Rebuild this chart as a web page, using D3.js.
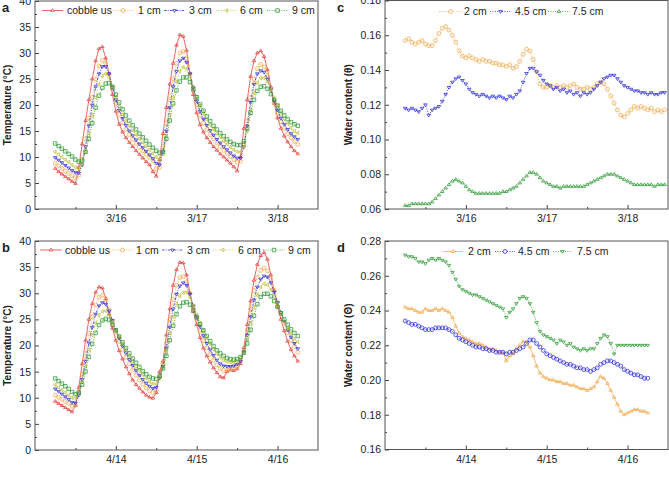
<!DOCTYPE html>
<html><head><meta charset="utf-8">
<script src="https://cdn.jsdelivr.net/npm/d3@7/dist/d3.min.js"></script>
<style>body{margin:0;background:#fff}svg{display:block}text{font-family:"Liberation Sans",Arial,sans-serif;fill:#222}</style>
</head><body><svg id="chart" width="669" height="489"></svg>
<script>
// ---------- DATA ----------
// hourly readings, hour index from the first day 00:00
const hoursT = d3.range(6, 79);   // panels a, b, d: hour 6 .. 78
const hoursC = d3.range(6, 84);   // panel c: hour 6 .. 83
const dateLabelsMar = ["3/16", "3/17", "3/18"];
const dateLabelsApr = ["4/14", "4/15", "4/16"];
const dayTickHours = [24, 48, 72];
const halfDayHours = [12, 36, 60];
const tempSeriesNames = ["cobble us", "1 cm", "3 cm", "6 cm", "9 cm"];
const waterSeriesNames = ["2 cm", "4.5 cm", "7.5 cm"];

// panel a – temperature (°C), March
const aCobble = [7.8,7.2,6.7,6.2,5.8,5.3,4.9,8.0,12.5,17.0,21.0,25.0,
 28.5,30.8,31.2,29.0,26.0,22.0,18.8,16.3,14.8,13.7,12.8,12.0,
 11.2,10.5,9.8,9.1,8.5,7.2,6.3,9.5,14.5,19.5,24.0,28.0,
 31.5,33.5,33.2,30.5,26.0,22.0,18.5,16.2,14.8,13.7,12.8,12.0,
 11.3,10.6,10.0,9.4,8.8,8.1,7.3,10.0,15.5,21.0,25.5,28.5,
 30.0,30.4,29.3,26.8,23.5,20.3,17.5,15.5,14.0,12.9,12.0,11.2,10.6];
const a1cm = [8.8,8.3,7.8,7.3,6.8,6.4,6.0,6.5,9.5,13.5,17.5,21.5,
 25.0,27.5,28.6,28.0,26.0,23.0,20.3,18.2,16.6,15.3,14.3,13.4,
 12.6,11.9,11.2,10.5,9.9,9.3,7.7,8.0,12.0,16.5,21.0,25.0,
 28.0,30.0,30.3,29.0,26.0,22.8,20.0,18.0,16.5,15.3,14.3,13.5,
 12.7,12.0,11.3,10.7,10.1,9.5,9.0,9.2,12.5,17.0,21.5,25.0,
 27.0,27.8,27.3,25.5,23.0,20.5,18.4,16.8,15.5,14.5,13.7,13.0,12.4];
const a3cm = [9.9,9.4,8.9,8.4,7.9,7.4,7.0,6.9,8.5,12.0,16.0,20.0,
 23.5,26.0,27.4,27.4,26.0,23.5,21.0,19.0,17.4,16.1,15.0,14.1,
 13.3,12.5,11.8,11.1,10.4,9.7,8.8,8.5,11.0,15.0,19.5,23.5,
 26.5,28.5,29.0,28.2,26.0,23.3,20.8,18.8,17.3,16.1,15.1,14.2,
 13.4,12.7,12.0,11.4,10.8,10.2,9.8,9.8,12.0,16.0,20.5,24.0,
 26.0,26.6,26.3,25.0,23.0,20.8,19.0,17.5,16.3,15.3,14.5,13.9,13.4];
const a6cm = [11.0,10.5,10.0,9.5,9.0,8.5,8.0,7.8,8.5,11.0,14.5,18.0,
 21.5,24.0,25.6,26.0,25.3,23.5,21.5,19.7,18.2,17.0,16.0,15.1,
 14.3,13.5,12.8,12.1,11.4,10.7,10.0,9.6,10.5,14.0,18.0,21.5,
 24.5,26.5,27.3,27.0,25.5,23.5,21.5,19.8,18.4,17.2,16.2,15.3,
 14.5,13.8,13.1,12.5,11.9,11.4,11.0,11.0,12.0,15.0,19.0,22.3,
 24.3,25.2,25.2,24.4,23.0,21.3,19.8,18.5,17.3,16.4,15.6,15.0,14.6];
const a9cm = [12.6,12.1,11.6,11.1,10.6,10.1,9.5,9.1,9.3,11.0,13.5,16.5,
 19.5,21.8,23.3,24.1,24.2,23.4,22.0,20.5,19.2,18.0,17.0,16.1,
 15.3,14.5,13.8,13.1,12.4,11.8,11.2,10.8,11.0,13.5,17.0,20.3,
 22.8,24.5,25.3,25.3,24.4,23.0,21.5,20.1,18.9,17.8,16.9,16.0,
 15.3,14.6,14.0,13.4,12.9,12.5,12.3,12.3,13.0,15.5,18.5,21.0,
 22.7,23.5,23.6,23.1,22.1,21.0,19.9,18.9,18.0,17.3,16.7,16.3,16.0];

// panel b – temperature (°C), April
const bCobble = [9.3,8.9,8.5,8.1,7.7,7.3,8.5,12.0,16.5,21.0,25.0,28.0,
 30.2,31.2,31.0,29.0,26.0,23.3,21.0,19.0,17.4,15.9,14.6,13.4,
 12.5,11.8,11.1,10.5,10.1,9.9,11.0,15.0,17.0,22.0,27.0,31.5,
 34.5,35.9,35.8,33.5,30.0,26.5,24.0,21.5,19.5,18.0,16.8,15.7,
 14.8,14.0,13.8,15.0,15.3,15.2,15.5,16.5,19.5,24.0,28.5,32.5,
 35.5,37.2,37.8,36.5,33.5,30.5,27.5,25.0,22.8,20.8,19.2,18.0,17.0];
const b1cm = [10.5,10.1,9.7,9.3,8.9,8.4,8.6,11.0,14.5,18.5,22.3,25.5,
 27.8,29.2,29.6,28.7,26.8,24.6,22.6,20.8,19.2,17.8,16.5,15.3,
 14.3,13.4,12.6,11.9,11.3,11.0,11.5,14.0,16.5,20.5,25.0,28.8,
 31.5,33.0,33.2,32.2,30.0,27.3,25.0,22.8,21.0,19.5,18.3,17.2,
 16.3,15.6,15.2,15.3,15.5,15.6,16.0,17.0,19.5,23.0,27.0,30.5,
 33.0,34.4,34.8,34.3,32.8,30.6,28.3,26.1,24.2,22.5,21.0,19.8,18.7];
const b3cm = [11.7,11.2,10.7,10.2,9.7,9.1,9.0,10.5,13.5,17.0,20.5,23.5,
 26.0,27.6,28.2,27.9,26.6,24.8,23.0,21.4,19.9,18.6,17.3,16.2,
 15.2,14.3,13.5,12.8,12.2,11.8,12.0,13.8,16.0,19.5,23.5,27.0,
 29.8,31.4,32.0,31.5,29.8,27.6,25.5,23.6,21.9,20.4,19.2,18.1,
 17.2,16.5,16.1,16.0,16.0,16.1,16.4,17.0,18.8,22.0,25.5,28.7,
 31.2,32.7,33.3,33.1,32.0,30.2,28.2,26.3,24.6,23.0,21.6,20.4,19.4];
const b6cm = [12.5,12.0,11.5,11.0,10.5,10.0,9.9,10.8,13.0,16.0,19.2,22.0,
 24.3,25.8,26.5,26.6,25.8,24.4,23.0,21.6,20.3,19.1,18.0,17.0,
 16.0,15.2,14.4,13.7,13.1,12.7,12.7,13.8,15.8,18.8,22.3,25.5,
 28.0,29.5,30.1,30.2,29.2,27.6,25.9,24.3,22.8,21.4,20.3,19.3,
 18.4,17.7,17.2,16.9,16.8,16.8,17.0,17.6,18.7,21.2,24.3,27.3,
 29.7,31.2,31.8,31.6,30.7,29.3,27.7,26.1,24.6,23.3,22.2,21.3,20.7];
const b9cm = [13.7,13.2,12.7,12.2,11.7,11.1,10.7,11.0,12.5,15.0,17.8,20.3,
 22.4,23.9,24.8,25.1,24.9,24.0,22.9,21.7,20.6,19.5,18.5,17.5,
 16.7,15.9,15.1,14.5,14.0,13.7,13.6,14.2,15.6,18.0,21.0,23.8,
 26.0,27.5,28.2,28.3,27.8,26.7,25.4,24.1,22.9,21.8,20.8,19.9,
 19.1,18.5,18.0,17.6,17.4,17.3,17.4,17.8,18.6,20.4,23.0,25.7,
 27.9,29.3,29.9,29.9,29.4,28.5,27.4,26.2,25.0,24.0,23.1,22.4,21.8];

// panel c – water content, March
const c2cm = [.157,.158,.156,.155,.156,.157,.155,.154,.154,.157,.161,.164,
 .165,.163,.160,.156,.151,.148,.147,.148,.147,.146,.145,.146,
 .145,.145,.144,.144,.143,.143,.142,.143,.141,.142,.145,.149,
 .152,.151,.146,.139,.132,.130,.130,.131,.130,.131,.130,.131,
 .130,.131,.132,.130,.129,.129,.130,.129,.130,.132,.133,.132,
 .129,.125,.121,.117,.114,.113,.115,.117,.119,.118,.119,.118,
 .117,.118,.116,.117,.116,.117];
const c45cm = [.118,.117,.118,.117,.116,.118,.120,.114,.117,.118,.119,.122,
 .126,.130,.133,.135,.136,.134,.132,.129,.127,.126,.125,.126,
 .125,.124,.125,.124,.125,.124,.123,.125,.124,.126,.128,.133,
 .138,.141,.141,.139,.137,.134,.132,.131,.129,.130,.128,.129,
 .127,.128,.126,.127,.125,.127,.126,.127,.129,.131,.133,.135,
 .136,.137,.137,.135,.133,.131,.130,.129,.128,.128,.127,.127,
 .126,.127,.126,.126,.127,.127];
const c75cm = [.062,.062,.063,.063,.063,.063,.063,.063,.064,.066,.068,.070,
 .072,.074,.076,.077,.076,.075,.073,.071,.070,.069,.069,.069,
 .069,.069,.069,.069,.069,.070,.070,.071,.072,.073,.075,.077,
 .079,.081,.081,.080,.078,.076,.075,.074,.073,.073,.072,.073,
 .073,.073,.073,.073,.073,.073,.074,.075,.076,.077,.078,.079,
 .080,.080,.080,.079,.078,.077,.076,.075,.074,.074,.074,.074,
 .074,.074,.073,.074,.074,.074];

// panel d – water content, April
const d2cm = [.242,.241,.241,.240,.239,.239,.241,.240,.240,.241,.240,.241,
 .240,.239,.236,.231,.227,.225,.224,.223,.222,.221,.221,.220,
 .219,.218,.218,.217,.216,.216,.211,.214,.215,.218,.220,.222,
 .222,.219,.214,.208,.204,.202,.201,.200,.200,.199,.199,.198,
 .198,.197,.197,.196,.195,.195,.194,.195,.196,.199,.202,.201,
 .198,.194,.190,.186,.182,.180,.181,.182,.183,.183,.182,.182,.181];
const d45cm = [.234,.233,.232,.232,.231,.230,.229,.229,.229,.230,.230,.230,
 .230,.229,.228,.226,.224,.223,.222,.221,.220,.219,.219,.218,
 .218,.217,.217,.216,.216,.216,.215,.216,.216,.217,.218,.219,
 .221,.223,.223,.221,.219,.217,.215,.214,.213,.212,.211,.210,
 .209,.209,.208,.207,.207,.206,.206,.205,.206,.207,.209,.210,
 .211,.211,.210,.209,.208,.206,.205,.204,.203,.203,.202,.201,.201];
const d75cm = [.272,.271,.271,.270,.268,.268,.267,.269,.270,.269,.270,.269,
 .268,.266,.262,.258,.254,.252,.251,.250,.249,.249,.248,.247,
 .246,.245,.244,.243,.242,.241,.236,.239,.241,.244,.247,.248,
 .247,.244,.239,.233,.228,.226,.225,.224,.223,.221,.223,.222,
 .220,.221,.219,.218,.217,.218,.217,.218,.218,.221,.224,.226,
 .225,.221,.215,.220,.220,.220,.220,.220,.220,.220,.220,.220,.220];

// ---------- STYLES ----------
const RED="#e3403d", ORANGE="#f2a94e", BLUE="#2b2bd8", OLIVE="#bcbf33", GREEN="#2f9a35";
const triDown = {draw(ctx,size){const r=Math.sqrt(size/(3*Math.sqrt(3)/4))/Math.sqrt(3); const h=r; ctx.moveTo(0,h*1.0); ctx.lineTo(-r*0.866*1.15,-h*0.5); ctx.lineTo(r*0.866*1.15,-h*0.5); ctx.closePath();}};
const triUp = {draw(ctx,size){const r=Math.sqrt(size/(3*Math.sqrt(3)/4))/Math.sqrt(3); const h=r; ctx.moveTo(0,-h); ctx.lineTo(-r*0.866*1.15,h*0.5); ctx.lineTo(r*0.866*1.15,h*0.5); ctx.closePath();}};
const triLeft = {draw(ctx,size){const r=Math.sqrt(size/(3*Math.sqrt(3)/4))/Math.sqrt(3); ctx.moveTo(-r,0); ctx.lineTo(r*0.5,-r*1.0); ctx.lineTo(r*0.5,r*1.0); ctx.closePath();}};

const svg = d3.select("#chart");

function panel(cfg){
  const g = svg.append("g");
  const x = d3.scaleLinear().domain([0,84]).range([cfg.left, cfg.right]);
  const y = d3.scaleLinear().domain(cfg.yDomain).range([cfg.bottom, cfg.top]);

  // series
  cfg.series.forEach(s=>{
    const pts = s.values.map((v,i)=>[cfg.hours[i], v]);
    g.append("path").datum(pts)
      .attr("d", d3.line().x(d=>x(d[0])).y(d=>y(d[1])))
      .attr("fill","none").attr("stroke",s.color).attr("stroke-width",0.8)
      .attr("stroke-dasharray", s.dash || null);
    g.append("g").selectAll("path").data(pts).join("path")
      .attr("transform", d=>`translate(${x(d[0])},${y(d[1])})`)
      .attr("d", d3.symbol().type(s.symbol).size(s.size||13))
      .attr("fill","none").attr("stroke",s.color).attr("stroke-width",0.75);
  });

  // axes (ticks inward)
  const yAxis = d3.axisLeft(y).tickValues(cfg.yTicks).tickFormat(cfg.yFormat)
    .tickSizeInner(-4).tickSizeOuter(0).tickPadding(4);
  const yMinor = d3.axisLeft(y).tickValues(cfg.yMinor).tickFormat("")
    .tickSizeInner(-2).tickSizeOuter(0);
  const xAxis = d3.axisBottom(x).tickValues(dayTickHours).tickFormat((d,i)=>cfg.xLabels[i])
    .tickSizeInner(-4).tickSizeOuter(0).tickPadding(6);
  const xMinor = d3.axisBottom(x).tickValues(halfDayHours).tickFormat("")
    .tickSizeInner(-2).tickSizeOuter(0);
  [[yAxis,"left"],[yMinor,"left"],[xAxis,"bottom"],[xMinor,"bottom"]].forEach(([ax,side])=>{
    const a = g.append("g").attr("transform", side==="left" ? `translate(${cfg.left},0)` : `translate(0,${cfg.bottom})`).call(ax);
    a.select(".domain").remove();
    a.selectAll("line").attr("stroke","#444");
    a.selectAll("text").attr("font-size",10.5).attr("fill","#222").attr("font-family",'"Liberation Sans",Arial,sans-serif');
  });
  g.append("rect").attr("x",cfg.left).attr("y",cfg.top).attr("width",cfg.right-cfg.left).attr("height",cfg.bottom-cfg.top)
    .attr("fill","none").attr("stroke","#555").attr("stroke-width",1);

  // axis title
  g.append("text").attr("transform",`translate(${cfg.titleX},${(cfg.top+cfg.bottom)/2}) rotate(-90)`)
    .attr("text-anchor","middle").attr("font-size",10).attr("font-weight","bold").text(cfg.title);
  // panel letter
  g.append("text").attr("x",cfg.letterX).attr("y",cfg.letterY).attr("font-size",13).attr("font-weight","bold").text(cfg.letter);

  // legend
  cfg.series.forEach((s,i)=>{
    const L = cfg.legend[i];
    g.append("line").attr("x1",L[0]).attr("x2",L[1]).attr("y1",cfg.legendY).attr("y2",cfg.legendY)
      .attr("stroke",s.color).attr("stroke-width",0.8).attr("stroke-dasharray", s.dash || null);
    g.append("path").attr("transform",`translate(${(L[0]+L[1])/2},${cfg.legendY})`)
      .attr("d", d3.symbol().type(s.symbol).size(s.size||13)).attr("fill","#fff").attr("stroke",s.color).attr("stroke-width",0.8);
    g.append("text").attr("x",L[2]).attr("y",cfg.legendY+3.6).attr("font-size",10.5).text(s.name);
  });
}

const tempTicks = d3.range(0,41,5), tempMinor = d3.range(2.5,40,5);
const DOT="1,1.4", DASHDOT="2.5,1.2,1,1.2";

panel({left:35,right:318,top:1,bottom:209,yDomain:[0,40],yTicks:tempTicks,yMinor:tempMinor,yFormat:d3.format("d"),
  xLabels:dateLabelsMar,hours:hoursT,title:"Temperature (°C)",titleX:11,letter:"a",letterX:2,letterY:12,legendY:10.5,
  legend:[[42,63,67],[113,133,138],[164,185,189],[216,237,240],[267,288,292]],
  series:[
    {name:tempSeriesNames[0],values:aCobble,color:RED,symbol:triUp},
    {name:tempSeriesNames[1],values:a1cm,color:ORANGE,symbol:d3.symbolCircle,size:12,dash:DOT},
    {name:tempSeriesNames[2],values:a3cm,color:BLUE,symbol:triDown,dash:DASHDOT},
    {name:tempSeriesNames[3],values:a6cm,color:OLIVE,symbol:triLeft,dash:DOT},
    {name:tempSeriesNames[4],values:a9cm,color:GREEN,symbol:d3.symbolSquare,size:12,dash:DOT}]});

panel({left:35,right:318,top:241,bottom:450,yDomain:[0,40],yTicks:tempTicks,yMinor:tempMinor,yFormat:d3.format("d"),
  xLabels:dateLabelsApr,hours:hoursT,title:"Temperature (°C)",titleX:11,letter:"b",letterX:2,letterY:252,legendY:250,
  legend:[[40,62,65],[112,133,136],[162,183,187],[213,233,238],[263,285,288]],
  series:[
    {name:tempSeriesNames[0],values:bCobble,color:RED,symbol:triUp},
    {name:tempSeriesNames[1],values:b1cm,color:ORANGE,symbol:d3.symbolCircle,size:12,dash:DOT},
    {name:tempSeriesNames[2],values:b3cm,color:BLUE,symbol:triDown,dash:DASHDOT},
    {name:tempSeriesNames[3],values:b6cm,color:OLIVE,symbol:triLeft,dash:DOT},
    {name:tempSeriesNames[4],values:b9cm,color:GREEN,symbol:d3.symbolSquare,size:12,dash:DOT}]});

panel({left:385,right:668,top:0.5,bottom:209,yDomain:[0.06,0.18],yTicks:d3.range(6,19,2).map(v=>v/100),yMinor:d3.range(7,18,2).map(v=>v/100),yFormat:d3.format(".2f"),
  xLabels:dateLabelsMar,hours:hoursC,title:"Water content (θ)",titleX:352,letter:"c",letterX:337,letterY:12,legendY:11.5,
  legend:[[439,462,464],[490,511,515],[548,570,572]],
  series:[
    {name:waterSeriesNames[0],values:c2cm,color:ORANGE,symbol:d3.symbolCircle,size:12,dash:DOT},
    {name:waterSeriesNames[1],values:c45cm,color:BLUE,symbol:triDown,dash:DOT},
    {name:waterSeriesNames[2],values:c75cm,color:GREEN,symbol:triUp,dash:DOT}]});

panel({left:385,right:668,top:241,bottom:449.5,yDomain:[0.16,0.28],yTicks:d3.range(16,29,2).map(v=>v/100),yMinor:d3.range(17,28,2).map(v=>v/100),yFormat:d3.format(".2f"),
  xLabels:dateLabelsApr,hours:hoursT,title:"Water content (Θ)",titleX:352,letter:"d",letterX:337,letterY:252,legendY:251.5,
  legend:[[443,463,468],[495,515,518],[553,572,577]],
  series:[
    {name:waterSeriesNames[0],values:d2cm,color:ORANGE,symbol:triUp},
    {name:waterSeriesNames[1],values:d45cm,color:BLUE,symbol:d3.symbolCircle,size:12,dash:DOT},
    {name:waterSeriesNames[2],values:d75cm,color:GREEN,symbol:triDown,dash:DOT}]});
</script></body></html>
